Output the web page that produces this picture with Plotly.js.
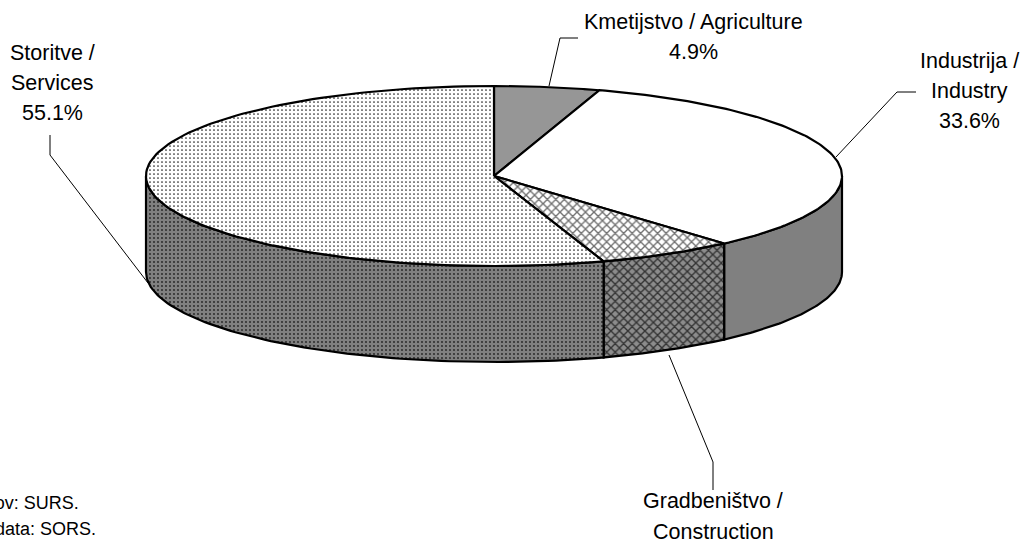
<!DOCTYPE html>
<html><head><meta charset="utf-8">
<script src="https://cdn.plot.ly/plotly-3.0.1.min.js"></script>
<style>html,body{margin:0;padding:0;background:#fff;overflow:hidden}</style>
</head><body><div id="chart" style="width:1021px;height:539px"></div>
<script>
const categories = ["Kmetijstvo / Agriculture","Industrija / Industry","Gradbeništvo / Construction","Storitve / Services"];
const shares = [4.9, 33.6, 6.4, 55.1];
const labelLines = [
 ["Kmetijstvo / Agriculture","4.9%"],
 ["Industrija /","Industry","33.6%"],
 ["Gradbeništvo /","Construction"],
 ["Storitve /","Services","55.1%"]
];
const labelX = [693.5, 969.5, 713, 52];
const labelY = [[22,52],[61,91,121],[501,532],[53,83,113]];
const leaderX = [[549,560,578],[836,897,916],[669,713,713],[148,50,50]];
const leaderY = [[86,38,38],[157,92,92],[355,462,490],[283,155,135]];
const sourceLines = ["Vir podatkov: SURS.","Source of data: SORS."];
const sourceEndX = [81, 98];
const sourceY = [503, 529];
const topFills = [
 {color:"#969696"},
 {color:"#ffffff"},
 {color:"#ffffff",pattern:{shape:"x",size:6,solidity:0.4,fgcolor:"#707070",bgcolor:"#ffffff"}},
 {color:"#ffffff",pattern:{shape:".",size:4,solidity:0.14,fgcolor:"#222222",bgcolor:"#ffffff"}}
];
const sideFills = [
 {color:"#808080"},
 {color:"#808080"},
 {color:"#808080",pattern:{shape:"x",size:6,solidity:0.4,fgcolor:"#333333",bgcolor:"#8c8c8c"}},
 {color:"#808080",pattern:{shape:".",size:4,solidity:0.16,fgcolor:"#222222",bgcolor:"#808080"}}
];
const cx=494, cy=176, rx=348, ry=90, depth=96;
const pt=(deg,dy)=>[cx+rx*Math.sin(deg*Math.PI/180), cy-ry*Math.cos(deg*Math.PI/180)+(dy||0)];
const total=shares.reduce((a,b)=>a+b,0);
let acc=0; const spans=shares.map(v=>{const a=acc/total*360;acc+=v;return [a,acc/total*360];});
const traces=[];
function add(xs,ys,f){
 const t={type:"scatter",mode:"lines",x:xs,y:ys,fill:"toself",fillcolor:f.color,
  line:{color:"#000",width:2.2},hoverinfo:"skip",showlegend:false};
 if(f.pattern) t.fillpattern=f.pattern;
 traces.push(t);
}
spans.forEach((s,i)=>{
 const a=Math.max(s[0],90), b=Math.min(s[1],270);
 if(b<=a) return;
 const xs=[],ys=[];
 for(let d=a;d<=b+1e-6;d+=(b-a)/80){const p=pt(d);xs.push(p[0]);ys.push(p[1]);}
 for(let d=b;d>=a-1e-6;d-=(b-a)/80){const p=pt(d,depth);xs.push(p[0]);ys.push(p[1]);}
 xs.push(xs[0]);ys.push(ys[0]);
 add(xs,ys,sideFills[i]);
});
spans.forEach((s,i)=>{
 const xs=[cx],ys=[cy];
 for(let d=s[0];d<=s[1]+1e-6;d+=(s[1]-s[0])/120){const p=pt(d);xs.push(p[0]);ys.push(p[1]);}
 xs.push(cx);ys.push(cy);
 add(xs,ys,topFills[i]);
});
leaderX.forEach((lx,i)=>traces.push({type:"scatter",mode:"lines",x:lx,y:leaderY[i],
 line:{color:"#000",width:1},hoverinfo:"skip",showlegend:false}));
const ann=[];
labelLines.forEach((lines,i)=>lines.forEach((t,j)=>ann.push({x:labelX[i],y:labelY[i][j],xref:"x",yref:"y",text:t,showarrow:false,
 xanchor:"center",yanchor:"middle",align:"center",font:{family:"Liberation Sans, Arial",size:21.5,color:"#000"}})));
sourceLines.forEach((t,i)=>ann.push({x:sourceEndX[i],y:sourceY[i],xref:"x",yref:"y",text:t,showarrow:false,
 xanchor:"right",yanchor:"middle",font:{family:"Liberation Sans, Arial",size:18,color:"#000"}}));
Plotly.newPlot("chart",traces,{
 width:1021,height:539,margin:{l:0,r:0,t:0,b:0},paper_bgcolor:"#fff",plot_bgcolor:"#fff",
 xaxis:{range:[0,1021],visible:false,fixedrange:true},
 yaxis:{range:[539,0],visible:false,fixedrange:true},
 annotations:ann,showlegend:false
},{displayModeBar:false,staticPlot:true});
</script></body></html>
